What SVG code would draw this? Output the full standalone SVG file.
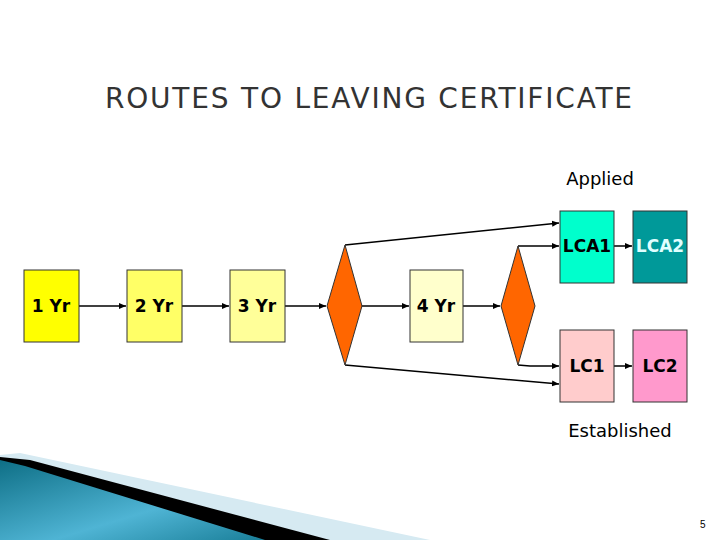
<svg xmlns="http://www.w3.org/2000/svg" width="720" height="540" viewBox="0 0 720 540">
<defs>
<marker id="ah" markerWidth="8" markerHeight="8" refX="7" refY="4" orient="auto" markerUnits="userSpaceOnUse"><path d="M0,1 L7,4 L0,7 z" fill="#000"/></marker>
<linearGradient id="tg" x1="0" y1="0" x2="1" y2="1"><stop offset="0" stop-color="#0e6f86"/><stop offset="0.6" stop-color="#4fb4d4"/><stop offset="1" stop-color="#1a7f99"/></linearGradient>
<style>
.b{stroke:#333;stroke-width:1}
.t{font-family:"Comic Sans MS","DejaVu Sans",sans-serif;font-size:17px;font-weight:bold;text-anchor:middle}
.l{font-family:"DejaVu Sans",sans-serif;font-size:18px;text-anchor:middle}
.c line{stroke:#000;stroke-width:1.5;marker-end:url(#ah)}
</style>
</defs>
<rect width="720" height="540" fill="#fff"/>
<g id="swoosh">
<polygon points="0,455 20,453 430,540 0,540" fill="#d6eaf2"/>
<polygon points="0,457 30,460 330,540 0,540" fill="#000"/>
<polygon points="0,460 25,466 265,540 0,540" fill="url(#tg)"/>
</g>
<text x="105" y="108" textLength="527" font-family="'DejaVu Sans',sans-serif" font-size="28" fill="#333">ROUTES TO LEAVING CERTIFICATE</text>
<text x="600" y="185" class="l">Applied</text>
<text x="620" y="437" class="l">Established</text>
<text x="700" y="528" font-family="'Liberation Sans',sans-serif" font-size="10">5</text>
<g class="c">
<line x1="79" y1="306" x2="126" y2="306"/>
<line x1="182" y1="306" x2="229" y2="306"/>
<line x1="285" y1="306" x2="326" y2="306"/>
<line x1="361" y1="306" x2="409" y2="306"/>
<line x1="463" y1="306" x2="500" y2="306"/>
<line x1="345" y1="245" x2="559" y2="223"/>
<line x1="345" y1="365" x2="559" y2="384"/>
<polyline points="518,246 530,246 559,246" fill="none" stroke="#000" stroke-width="1.5" marker-end="url(#ah)"/>
<polyline points="518,365 530,366 559,366" fill="none" stroke="#000" stroke-width="1.5" marker-end="url(#ah)"/>
<line x1="614" y1="246" x2="632" y2="246"/>
<line x1="614" y1="366" x2="632" y2="366"/>
</g>
<g id="y1"><rect class="b" x="24" y="270" width="55" height="72" fill="#ffff00"/><text class="t" x="51" y="312">1 Yr</text></g>
<g id="y2"><rect class="b" x="127" y="270" width="55" height="72" fill="#ffff66"/><text class="t" x="154" y="312">2 Yr</text></g>
<g id="y3"><rect class="b" x="230" y="270" width="55" height="72" fill="#ffff99"/><text class="t" x="257" y="312">3 Yr</text></g>
<g id="d1"><polygon class="b" points="345,245 362,306 345,365 327,306" fill="#ff6600"/></g>
<g id="y4"><rect class="b" x="410" y="270" width="53" height="72" fill="#ffffcc"/><text class="t" x="436" y="312">4 Yr</text></g>
<g id="d2"><polygon class="b" points="518,246 535,306 518,365 501,306" fill="#ff6600"/></g>
<g id="lca1"><rect class="b" x="560" y="211" width="54" height="72" fill="#00ffcc"/><text class="t" x="587" y="252">LCA1</text></g>
<g id="lca2"><rect class="b" x="633" y="211" width="54" height="72" fill="#009999"/><text class="t" x="660" y="252" fill="#e0ffff">LCA2</text></g>
<g id="lc1"><rect class="b" x="560" y="330" width="54" height="72" fill="#ffcccc"/><text class="t" x="587" y="372">LC1</text></g>
<g id="lc2"><rect class="b" x="633" y="330" width="54" height="72" fill="#ff99cc"/><text class="t" x="660" y="372">LC2</text></g>
</svg>
